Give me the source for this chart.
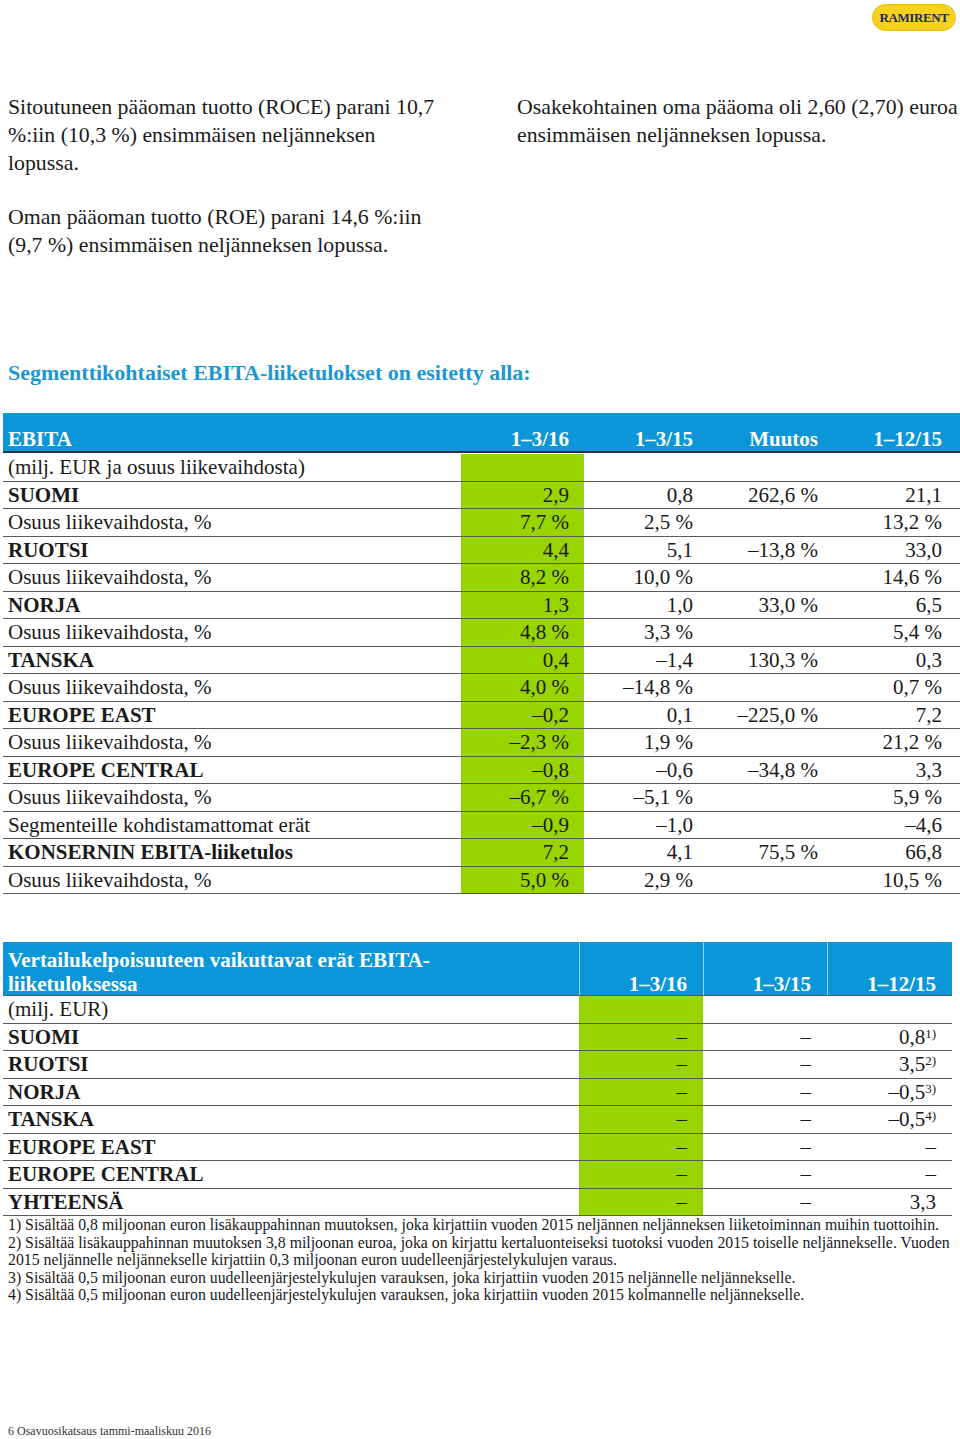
<!DOCTYPE html>
<html>
<head>
<meta charset="utf-8">
<script src="https://cdn.jsdelivr.net/npm/chart.js@4"></script>
<style>
  body { margin:0; width:960px; height:1439px; background:#fff; position:relative; font-family:"Liberation Serif", serif; color:#1a1a1a; overflow:hidden; }
  .abs { position:absolute; white-space:nowrap; }
  .para { font-size:21.8px; line-height:28px; }
  .logo { left:872px; top:4px; width:84px; height:27px; border-radius:14px; background:#f6d21e; border:1px solid #e2bd10; box-sizing:border-box;
          font:900 13px "Liberation Serif", serif; color:#1d2b5c; text-align:center; line-height:25px; letter-spacing:-0.4px; }
  .heading { left:8px; top:360px; font-size:22px; font-weight:bold; color:#1b97d3; }
  .tbl { position:absolute; left:3px; }
  .hdr { position:absolute; left:0; background:#0a96d8; color:#fff; font-weight:bold; font-size:21px; }
  .row { position:absolute; left:0; height:27.5px; border-bottom:1px solid #5a5a5a; box-sizing:border-box; font-size:21px; line-height:27px; }
  .cell { position:absolute; top:0; height:100%; text-align:right; box-sizing:border-box; }
  .green { background:#97d400; }
  .lab { position:absolute; left:5px; top:0; }
  .b { font-weight:bold; }
  sup { font-size:13px; vertical-align:6px; line-height:0; }
  .notes { left:8px; top:1216px; font-size:15.8px; line-height:17.5px; }
  .foot { left:8px; top:1424px; font-size:12px; color:#333; }
</style>
</head>
<body>
<div class="abs logo">RAMIRENT</div>

<div class="abs para" style="left:8px;top:93px;">Sitoutuneen pääoman tuotto (ROCE) parani 10,7<br>%:iin (10,3 %) ensimmäisen neljänneksen<br>lopussa.</div>
<div class="abs para" style="left:517px;top:93px;">Osakekohtainen oma pääoma oli 2,60 (2,70) euroa<br>ensimmäisen neljänneksen lopussa.</div>
<div class="abs para" style="left:8px;top:203px;">Oman pääoman tuotto (ROE) parani 14,6 %:iin<br>(9,7 %) ensimmäisen neljänneksen lopussa.</div>

<div class="abs heading">Segmenttikohtaiset EBITA-liiketulokset on esitetty alla:</div>

<div id="t1" class="tbl" style="top:413px;width:957px;"></div>
<div id="t2" class="tbl" style="top:942px;width:949px;"></div>

<div class="abs notes" id="notes"></div>
<div class="abs foot">6 Osavuosikatsaus tammi-maaliskuu 2016</div>

<script>
// EBITA table
const ebitaHeaders = ['1–3/16', '1–3/15', 'Muutos', '1–12/15'];
const ebitaLabels = ['(milj. EUR ja osuus liikevaihdosta)', 'SUOMI', 'Osuus liikevaihdosta, %', 'RUOTSI', 'Osuus liikevaihdosta, %',
  'NORJA', 'Osuus liikevaihdosta, %', 'TANSKA', 'Osuus liikevaihdosta, %', 'EUROPE EAST', 'Osuus liikevaihdosta, %',
  'EUROPE CENTRAL', 'Osuus liikevaihdosta, %', 'Segmenteille kohdistamattomat erät', 'KONSERNIN EBITA-liiketulos', 'Osuus liikevaihdosta, %'];
const ebitaBold = [0, 1, 0, 1, 0, 1, 0, 1, 0, 1, 0, 1, 0, 0, 1, 0];
const ebita_1_3_16 = ['', '2,9', '7,7 %', '4,4', '8,2 %', '1,3', '4,8 %', '0,4', '4,0 %', '–0,2', '–2,3 %', '–0,8', '–6,7 %', '–0,9', '7,2', '5,0 %'];
const ebita_1_3_15 = ['', '0,8', '2,5 %', '5,1', '10,0 %', '1,0', '3,3 %', '–1,4', '–14,8 %', '0,1', '1,9 %', '–0,6', '–5,1 %', '–1,0', '4,1', '2,9 %'];
const ebitaMuutos = ['', '262,6 %', '', '–13,8 %', '', '33,0 %', '', '130,3 %', '', '–225,0 %', '', '–34,8 %', '', '', '75,5 %', ''];
const ebita_1_12_15 = ['', '21,1', '13,2 %', '33,0', '14,6 %', '6,5', '5,4 %', '0,3', '0,7 %', '7,2', '21,2 %', '3,3', '5,9 %', '–4,6', '66,8', '10,5 %'];

// comparability items table
const itemsTitle = ['Vertailukelpoisuuteen vaikuttavat erät EBITA-', 'liiketuloksessa'];
const itemsHeaders = ['1–3/16', '1–3/15', '1–12/15'];
const itemsLabels = ['(milj. EUR)', 'SUOMI', 'RUOTSI', 'NORJA', 'TANSKA', 'EUROPE EAST', 'EUROPE CENTRAL', 'YHTEENSÄ'];
const items_1_3_16 = ['', '–', '–', '–', '–', '–', '–', '–'];
const items_1_3_15 = ['', '–', '–', '–', '–', '–', '–', '–'];
const items_1_12_15 = ['', '0,8', '3,5', '–0,5', '–0,5', '–', '–', '3,3'];
const itemsNotes = ['', '1)', '2)', '3)', '4)', '', '', ''];

const footnotes = [
  '1) Sisältää 0,8 miljoonan euron lisäkauppahinnan muutoksen, joka kirjattiin vuoden 2015 neljännen neljänneksen liiketoiminnan muihin tuottoihin.',
  '2) Sisältää lisäkauppahinnan muutoksen 3,8 miljoonan euroa, joka on kirjattu kertaluonteiseksi tuotoksi vuoden 2015 toiselle neljännekselle. Vuoden',
  '2015 neljännelle neljännekselle kirjattiin 0,3 miljoonan euron uudelleenjärjestelykulujen varaus.',
  '3) Sisältää 0,5 miljoonan euron uudelleenjärjestelykulujen varauksen, joka kirjattiin vuoden 2015 neljännelle neljännekselle.',
  '4) Sisältää 0,5 miljoonan euron uudelleenjärjestelykulujen varauksen, joka kirjattiin vuoden 2015 kolmannelle neljännekselle.'
];

const rowH = 27.5;

function el(tag, cls, style, html) {
  const d = document.createElement(tag);
  if (cls) d.className = cls;
  if (style) d.style.cssText = style;
  if (html !== undefined) d.innerHTML = html;
  return d;
}

// table 1
const t1 = document.getElementById('t1');
const c1 = [[458, 581], [581, 705], [705, 830], [830, 954]];
const h1 = el('div', 'hdr', 'top:0;width:957px;height:40px;border-bottom:2px solid #233040;box-sizing:border-box;');
h1.appendChild(el('div', '', 'position:absolute;left:5px;bottom:-1px;', 'EBITA'));
ebitaHeaders.forEach((h, i) => {
  h1.appendChild(el('div', '', `position:absolute;left:${c1[i][0]}px;width:${c1[i][1] - c1[i][0]}px;bottom:-1px;text-align:right;padding-right:15px;box-sizing:border-box;`, h));
});
t1.appendChild(h1);
const cols1 = [ebita_1_3_16, ebita_1_3_15, ebitaMuutos, ebita_1_12_15];
ebitaLabels.forEach((lab, r) => {
  const row = el('div', 'row', `top:${41 + r * rowH}px;width:957px;`);
  row.appendChild(el('div', 'lab' + (ebitaBold[r] ? ' b' : ''), '', lab));
  cols1.forEach((col, i) => {
    row.appendChild(el('div', 'cell' + (i === 0 ? ' green' : ''), `left:${c1[i][0]}px;width:${c1[i][1] - c1[i][0]}px;padding-right:15px;`, col[r]));
  });
  t1.appendChild(row);
});

// table 2
const t2 = document.getElementById('t2');
const c2 = [[576, 700], [700, 824], [824, 949]];
const h2 = el('div', 'hdr', 'top:0;width:949px;height:54px;border-bottom:1px solid #5a5a5a;box-sizing:border-box;line-height:24px;');
h2.appendChild(el('div', '', 'position:absolute;left:5px;top:6px;', itemsTitle.join('<br>')));
itemsHeaders.forEach((h, i) => {
  h2.appendChild(el('div', '', `position:absolute;left:${c2[i][0]}px;width:${c2[i][1] - c2[i][0]}px;top:0;height:100%;border-left:1.5px solid rgba(255,255,255,0.6);text-align:right;padding:30px 16px 0 0;box-sizing:border-box;`, h));
});
t2.appendChild(h2);
itemsLabels.forEach((lab, r) => {
  const row = el('div', 'row', `top:${54 + r * rowH}px;width:949px;`);
  row.appendChild(el('div', 'lab' + (r > 0 ? ' b' : ''), '', lab));
  [items_1_3_16, items_1_3_15, items_1_12_15].forEach((col, i) => {
    const txt = col[r] + (i === 2 && itemsNotes[r] ? '<sup>' + itemsNotes[r] + '</sup>' : '');
    row.appendChild(el('div', 'cell' + (i === 0 ? ' green' : ''), `left:${c2[i][0]}px;width:${c2[i][1] - c2[i][0]}px;padding-right:16px;`, txt));
  });
  t2.appendChild(row);
});

document.getElementById('notes').innerHTML = footnotes.join('<br>');
</script>
</body>
</html>
